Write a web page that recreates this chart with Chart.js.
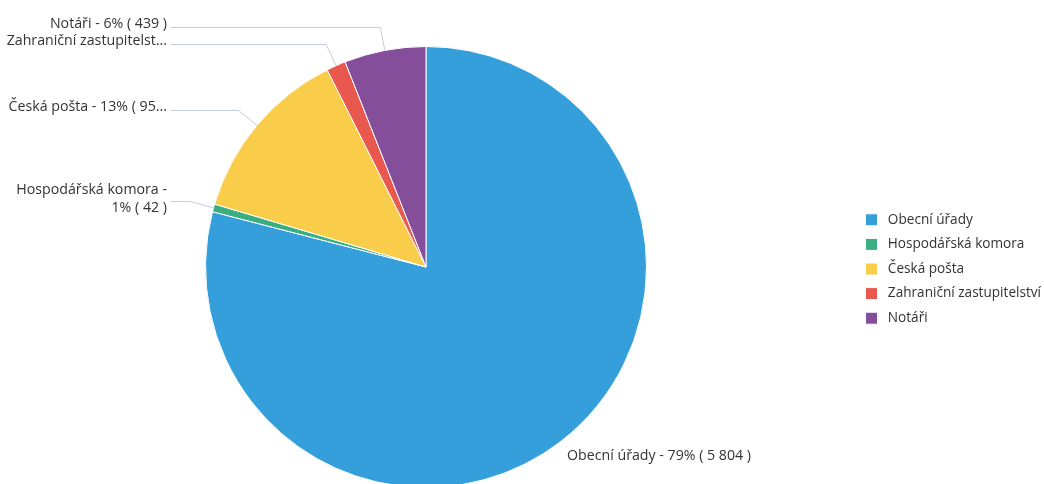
<!DOCTYPE html>
<html>
<head>
<meta charset="utf-8">
<script src="https://cdn.jsdelivr.net/npm/chart.js@4/dist/chart.umd.min.js"></script>
<style>
html,body{margin:0;padding:0;background:#fff;}
#wrap{position:relative;width:1044px;height:484px;}
</style>
</head>
<body>
<div id="wrap"><canvas id="c" width="1044" height="484"></canvas></div>
<script>
const categories = ['Obecní úřady', 'Hospodářská komora', 'Česká pošta', 'Zahraniční zastupitelství', 'Notáři'];
const values = [5804, 42, 955, 104, 439];
const colors = ['#349FDB', '#3AAE80', '#F9CD4A', '#E8584F', '#854E9B'];

const FONT = '"Open Sans", "Noto Sans", sans-serif';
const FSIZE = 14.2;
const LEGEND_FSIZE = 13.6;
const TEXT_COLOR = '#333333';
const LINE_COLOR = '#C5CCDA';
const LABEL_RIGHT = 167;
const LINE_START = 171;
const MAX_W = 162;
const PIE_BOX = { cx: 426, cy: 267, r: 221 };
const labelMode = ['outside', 'wrap', 'truncate', 'truncate', 'truncate'];

function fmt(n){ return String(n).replace(/\B(?=(\d{3})+(?!\d))/g, ' '); }

const pieBox = {
  id: 'pieBox',
  afterLayout(chart){
    const a = chart.chartArea;
    a.left = PIE_BOX.cx - PIE_BOX.r;
    a.right = PIE_BOX.cx + PIE_BOX.r;
    a.top = PIE_BOX.cy - PIE_BOX.r;
    a.bottom = PIE_BOX.cy + PIE_BOX.r;
    a.width = a.right - a.left;
    a.height = a.bottom - a.top;
  }
};

const outLabels = {
  id: 'outLabels',
  afterDraw(chart){
    const ctx = chart.ctx;
    const meta = chart.getDatasetMeta(0);
    const total = values.reduce((a,b)=>a+b,0);
    ctx.save();
    ctx.font = FSIZE + 'px ' + FONT;
    ctx.fillStyle = TEXT_COLOR;
    ctx.strokeStyle = LINE_COLOR;
    ctx.lineWidth = 1;
    meta.data.forEach((arc, i) => {
      const p = arc.getProps(['x','y','startAngle','endAngle','outerRadius'], true);
      const mid = (p.startAngle + p.endAngle) / 2;
      const cos = Math.cos(mid), sin = Math.sin(mid);
      const r = p.outerRadius;
      const text = categories[i] + ' - ' + Math.round(values[i] / total * 100) + '% ( ' + fmt(values[i]) + ' )';
      const ex = p.x + r * cos, ey = p.y + r * sin;
      if (cos > 0) {
        ctx.textAlign = 'left';
        ctx.textBaseline = 'middle';
        ctx.fillText(text, ex + 6, ey + 15);
        return;
      }
      const bx = p.x + (r + 24) * cos, by = p.y + (r + 24) * sin;
      ctx.beginPath();
      ctx.moveTo(LINE_START, Math.round(by) + 0.5);
      ctx.lineTo(bx, Math.round(by) + 0.5);
      ctx.lineTo(ex, ey);
      ctx.stroke();
      ctx.textAlign = 'right';
      ctx.textBaseline = 'middle';
      let lines = [text];
      if (ctx.measureText(text).width > MAX_W) {
        if (labelMode[i] === 'wrap') {
          const words = text.split(' ');
          lines = [];
          let cur = '';
          words.forEach(w => {
            const t = cur ? cur + ' ' + w : w;
            if (ctx.measureText(t).width > MAX_W - 10 && cur) { lines.push(cur); cur = w; }
            else cur = t;
          });
          if (cur) lines.push(cur);
        } else {
          let t = text;
          while (t.length > 1 && ctx.measureText(t + '...').width > MAX_W) t = t.slice(0, -1);
          lines = [t.replace(/\s+$/,'') + '...'];
        }
      }
      const lh = 18;
      const cy = by - 3;
      lines.forEach((ln, k) => {
        ctx.fillText(ln, LABEL_RIGHT, cy + (k - (lines.length - 1) / 2) * lh);
      });
    });
    ctx.restore();
  }
};

new Chart(document.getElementById('c'), {
  type: 'pie',
  data: {
    labels: categories,
    datasets: [{
      data: values,
      backgroundColor: colors,
      borderColor: '#ffffff',
      borderWidth: 1,
      hoverOffset: 0
    }]
  },
  options: {
    responsive: false,
    animation: false,
    layout: { padding: { top: 54, bottom: 0, left: 0, right: -7 } },
    plugins: {
      tooltip: { enabled: false },
      legend: {
        position: 'right',
        align: 'center',
        labels: {
          boxWidth: 12,
          boxHeight: 12,
          padding: 11,
          color: TEXT_COLOR,
          font: { family: FONT, size: LEGEND_FSIZE },
          generateLabels(chart){
            const items = Chart.overrides.pie.plugins.legend.labels.generateLabels(chart);
            items.forEach(it => { it.text = ' ' + it.text; });
            return items;
          }
        }
      }
    }
  },
  plugins: [pieBox, outLabels]
});
</script>
</body>
</html>
